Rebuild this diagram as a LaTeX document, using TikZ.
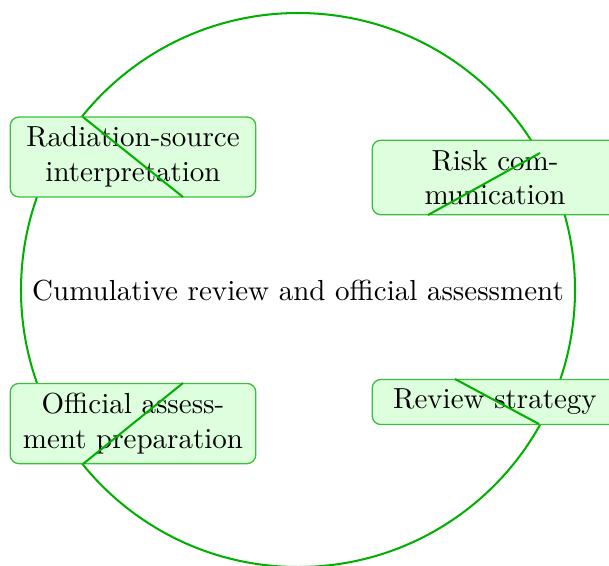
\documentclass[tikz,border=0pt]{standalone}
\usetikzlibrary{calc}
\definecolor{ringgreen}{RGB}{0,176,0}
\definecolor{boxline}{RGB}{60,190,60}
\definecolor{boxfill}{RGB}{222,255,222}
\begin{document}
\begin{tikzpicture}[x=0.3448pt,y=-0.3448pt,
  ring/.style={draw=ringgreen,line width=0.7pt},
  stepbox/.style={draw=boxline,fill=boxfill,rounded corners=3pt,line width=0.45pt,
    text width=78pt,align=center,inner sep=0.3333em,font=\normalsize},
  chord/.style={draw=ringgreen,line width=0.7pt}]
\useasboundingbox (0,0) rectangle (609,565);
\coordinate (c) at (298,290);
\draw[ring] (c) circle[radius=277];
\node[font=\normalsize] (title) at (298,291) {Cumulative review and official assessment};
\node[stepbox] (rad) at (133,157) {Radiation-source\\interpretation};
\node[stepbox] (risk) at (495,177.5) {Risk com-\\munication};
\node[stepbox] (rev) at (495,402) {Review strategy};
\node[stepbox] (off) at (133,423.5) {Official assess-\\ment preparation};
\coordinate (r1) at (83,117);  \coordinate (r2) at (183,197);
\coordinate (k1) at (540,153); \coordinate (k2) at (428,215);
\coordinate (v1) at (455,379); \coordinate (v2) at (539,424);
\coordinate (o1) at (83,464);  \coordinate (o2) at (183,383);
\draw[chord] (r1) -- (r2);
\draw[chord] (k1) -- (k2);
\draw[chord] (v1) -- (v2);
\draw[chord] (o1) -- (o2);
\end{tikzpicture}
\end{document}
